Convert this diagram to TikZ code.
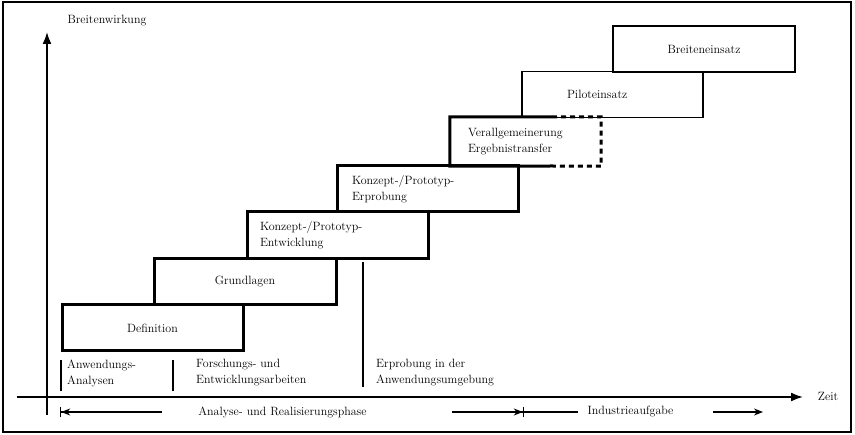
\documentclass[tikz,border=0pt]{standalone}
\usepackage{tikz}
\usetikzlibrary{arrows.meta,calc}

\begin{document}
\begin{tikzpicture}[x=1pt,y=-1pt,>=Stealth,
  font=\fontsize{12}{16}\selectfont,
  stufe/.style={draw,line width=3pt,minimum width=181pt,minimum height=46pt,inner sep=0pt},
  duenn/.style={stufe,line width=1.8pt},
  links/.style={align=left,inner xsep=#1},
  achse/.style={line width=1.8pt},
  marke/.style={line width=1.2pt}]
  \useasboundingbox (0,0) rectangle (855,435);
  \draw[line width=1.8pt] (3,2) rectangle (851,432);
  % axes
  \coordinate (yu) at (47,415);
  \coordinate (yo) at (47,32);
  \coordinate (xl) at (17,397);
  \coordinate (xr) at (803,397);
  \draw[achse,-{Latex[length=12pt,width=9pt]}] (yu) -- (yo);
  \draw[achse,-{Latex[length=12pt,width=9pt]}] (xl) -- (xr);
  \node (lbw) at (107,21) {Breitenwirkung};
  \node (lzeit) at (828,396) {Zeit};
  % steps
  \node[duenn] (pilot) at (612.5,94.5) [minimum width=181pt,text width=91pt,links=45pt] {Piloteinsatz};
  \node[duenn,minimum width=182pt] (breit) at (704,49) {Breiteneinsatz};
  \node[stufe] (def) at (152.5,328) {Definition};
  \node[stufe,minimum width=182pt] (grund) at (245,282) {Grundlagen};
  \node[stufe,minimum height=47pt,text width=155pt,links=13pt] (entw) at (337.5,235.5)
    {Konzept-/Prototyp-\\Entwicklung};
  \node[stufe,text width=151pt,links=15pt] (erpr) at (427.5,189)
    {Konzept-/Prototyp-\\Erprobung};
  \node[minimum width=151pt,minimum height=49pt,inner sep=0pt,text width=115pt,links=18pt] (verall) at (525.5,141.5)
    {Verallgemeinerung\\Ergebnistransfer};
  \coordinate (vo) at (552,117);
  \coordinate (vu) at (552,166);
  \draw[line width=3pt] (vo) -- (verall.north west) -- (verall.south west) -- (vu);
  \draw[line width=3pt,dash pattern=on 5pt off 4pt] (vo) -- (verall.north east) -- (verall.south east) -- (vu);
  % phases below the steps
  \foreach \n/\x/\t in {p1/61/360,p2/173/360,p3/363/262}
    {\coordinate (\n o) at (\x,\t); \coordinate (\n u) at (\x,\ifnum\x=363 387\else 391\fi);
     \draw[marke] (\n o) -- (\n u);}
  \node[anchor=west,align=left,inner sep=0pt] (anw) at (67,373) {Anwendungs-\\Analysen};
  \node[anchor=west,align=left,inner sep=0pt] (fue) at (196,373) {Forschungs- und\\Entwicklungsarbeiten};
  \node[anchor=west,align=left,inner sep=0pt] (erp) at (376,373) {Erprobung in der\\Anwendungsumgebung};
  % time spans
  \node (ana) at (282.5,412) {Analyse- und Realisierungsphase};
  \node (ind) at (630.5,412) {Industrieaufgabe};
  \coordinate (a1) at (60,412);
  \coordinate (a2) at (162,412);
  \coordinate (b1) at (452,412);
  \coordinate (b2) at (524,412);
  \coordinate (b3) at (578,412);
  \coordinate (c1) at (713,412);
  \coordinate (c2) at (763,412);
  \draw[marke,{Bar[width=10pt]Stealth[length=9pt,width=7pt]}-] (a1) -- (a2);
  \draw[marke,-{Stealth[length=9pt,width=7pt]Bar[width=10pt]}] (b1) -- (b2);
  \draw[marke] (b2) -- (b3);
  \draw[marke,-{Stealth[length=9pt,width=7pt]}] (c1) -- (c2);
\end{tikzpicture}
\end{document}
